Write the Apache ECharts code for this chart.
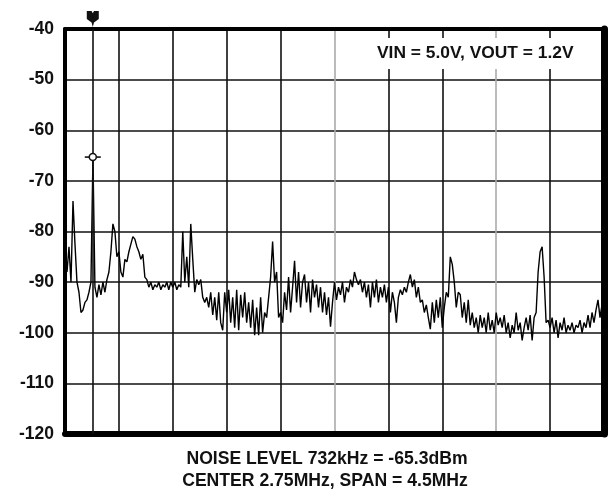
<!DOCTYPE html>
<html>
<head>
<meta charset="utf-8">
<script src="https://cdn.jsdelivr.net/npm/echarts@6/dist/echarts.min.js"></script>
<style>
html,body{margin:0;padding:0;background:#fff;}
#chart{width:612px;height:494px;}
</style>
</head>
<body>
<div id="chart"></div>
<script>
// Spectrum analyzer sweep settings (from the chart caption)
const centerMHz = 2.75;
const spanMHz = 4.5;
const startMHz = centerMHz - spanMHz / 2;   // 0.5
const stopMHz = centerMHz + spanMHz / 2;    // 5.0

// Y axis ticks (dBm)
const yTicks = [-40, -50, -60, -70, -80, -90, -100, -110, -120];

// Marker
const markerFreqMHz = 0.732;
const markerLevelDbm = -65.3;

// Annotation texts
const conditionText = 'VIN = 5.0V, VOUT = 1.2V';
const captionLine1 = 'NOISE LEVEL 732kHz = -65.3dBm';
const captionLine2 = 'CENTER 2.75MHz, SPAN = 4.5MHz';

// Trace levels (dBm), equally spaced across the sweep
const traceDbm = [
  -82,-88,-83,-90,-74,-82.5,-90,-92,-96,-95.5,
  -94,-93.5,-92,-90,-65.3,-91,-93,-90.5,-92.5,-90,
  -92,-89.5,-88,-84,-78.5,-80,-85,-84,-88,-89,
  -85.5,-86,-84,-82.5,-81,-81.5,-83,-84,-85.5,-84.5,
  -89,-89.5,-91,-90,-91.5,-90.5,-91,-90,-91.5,-90.5,
  -91,-90,-91.5,-90,-91,-90,-91.5,-90.5,-91,-80,
  -90,-85,-91,-78.5,-85.5,-92,-89.5,-90.5,-89.5,-93,
  -94,-93,-95,-92,-96.5,-93,-97.5,-92,-98,-99.5,
  -92,-96,-91.5,-98,-93,-99,-91.5,-99.5,-92.5,-97,
  -92,-98,-94,-99,-93.5,-100.5,-95,-100.5,-93,-100,
  -96,-97,-93,-89,-82,-90,-88,-97,-96,-98,
  -92,-95.5,-89,-96,-91,-85.8,-94,-88,-95,-90,
  -88.5,-94,-90,-96,-89.5,-93,-90.5,-95,-91,-96,
  -92,-96.5,-93,-98.8,-94,-90,-93.5,-91,-92.5,-90,
  -94,-91,-92,-89.5,-91,-88,-89.5,-90.5,-89.5,-92,
  -90,-93,-90.5,-95,-90,-93,-89.5,-94,-91,-93,
  -90.5,-94,-91,-96,-92,-94,-98,-93,-91.5,-92.5,
  -91,-92,-90,-88.5,-91,-89.5,-93,-91,-94,-93.5,
  -96,-94.5,-97,-99.3,-94,-98,-93.5,-97,-93,-99,
  -95,-92,-93,-85,-86.5,-90,-95,-92,-92.5,-97,
  -94,-98,-93.5,-98.5,-96,-99,-97,-100,-96.5,-99,
  -97,-100,-96,-99.5,-97.5,-100,-96,-98.5,-97,-99,
  -96.5,-100,-98,-101,-98.5,-100,-96,-99.5,-98,-101.5,
  -99,-97,-99.5,-96.5,-101.5,-97,-96,-88,-84,-83,
  -89,-98,-97.5,-99,-97,-100,-97.5,-101,-98,-99.5,
  -97,-100,-98.5,-99.5,-98,-100,-98.5,-99,-97.5,-100,
  -98,-99,-96.5,-99,-96,-98,-95.5,-93.5,-97,-94.5,
  -96
];

const N = traceDbm.length;
const traceData = traceDbm.map((v, i) => [startMHz + i * spanMHz / (N - 1), v]);

const FONT = '"Liberation Sans", Arial, Helvetica, sans-serif';
const chart = echarts.init(document.getElementById('chart'), null, {renderer: 'canvas'});

const divColors = ['#111','#111','#111','#111','#111','#aaa','#111','#111','#aaa','#111','#111'];

chart.setOption({
  animation: false,
  backgroundColor: '#fff',
  grid: {left: 65, right: 8, top: 29, bottom: 60, containLabel: false},
  xAxis: [
    {
      type: 'value', min: startMHz, max: stopMHz, position: 'bottom',
      axisLine: {show: true, onZero: false, lineStyle: {color: '#000', width: 6}},
      axisTick: {show: false}, axisLabel: {show: false}, splitLine: {show: false}
    },
    {
      type: 'value', min: 0, max: 10, interval: 1, position: 'top',
      axisLine: {show: true, onZero: false, lineStyle: {color: '#000', width: 4}},
      axisTick: {show: false}, axisLabel: {show: false},
      splitLine: {show: true, lineStyle: {color: divColors, width: 1.6}}
    }
  ],
  yAxis: [
    {
      type: 'value', min: yTicks[yTicks.length - 1], max: yTicks[0], interval: 10, position: 'left',
      axisLine: {show: true, onZero: false, lineStyle: {color: '#000', width: 4}},
      axisTick: {show: false},
      axisLabel: {show: true, color: '#111', fontFamily: FONT, fontWeight: 'bold', fontSize: 17.5, margin: 11},
      splitLine: {show: true, lineStyle: {color: '#111', width: 1.6}}
    },
    {
      type: 'value', min: yTicks[yTicks.length - 1], max: yTicks[0], interval: 10, position: 'right',
      axisLine: {show: true, onZero: false, lineStyle: {color: '#000', width: 7}},
      axisTick: {show: false}, axisLabel: {show: false}, splitLine: {show: false}
    }
  ],
  series: [
    {
      type: 'line', xAxisIndex: 0, yAxisIndex: 0,
      data: traceData, showSymbol: false, symbol: 'none',
      lineStyle: {color: '#000', width: 1.4},
      markLine: {
        silent: true, symbol: 'none', label: {show: false},
        lineStyle: {color: '#111', width: 1.6, type: 'solid'},
        data: [{xAxis: markerFreqMHz}]
      },
      markPoint: {
        silent: true, label: {show: false},
        data: [
          {coord: [markerFreqMHz, markerLevelDbm], symbol: 'rect', symbolSize: [16, 1.6],
           itemStyle: {color: '#111'}},
          {coord: [markerFreqMHz, markerLevelDbm], symbol: 'circle', symbolSize: 7,
           itemStyle: {color: '#fff', borderColor: '#111', borderWidth: 1.5}},
          {coord: [markerFreqMHz, yTicks[0]], symbol: 'path://M0,0 L4,0 L5,2 L6,0 L10,0 L10,7 L6,10 L5,14 L4,10 L0,7 Z',
           symbolSize: [12, 16], symbolOffset: [0, -10], itemStyle: {color: '#111'}}
        ]
      }
    }
  ],
  graphic: [
    {
      type: 'text', left: 371, top: 38, z: 50,
      style: {text: conditionText, font: 'bold 17.4px ' + FONT, fill: '#111',
              backgroundColor: '#fff', padding: [7, 6, 7, 6]}
    },
    {
      type: 'text', x: 327, y: 459, z: 50,
      style: {text: captionLine1, font: 'bold 17.6px ' + FONT, fill: '#111', align: 'center', verticalAlign: 'middle'}
    },
    {
      type: 'text', x: 325, y: 481, z: 50,
      style: {text: captionLine2, font: 'bold 17.6px ' + FONT, fill: '#111', align: 'center', verticalAlign: 'middle'}
    }
  ]
});
</script>
</body>
</html>
